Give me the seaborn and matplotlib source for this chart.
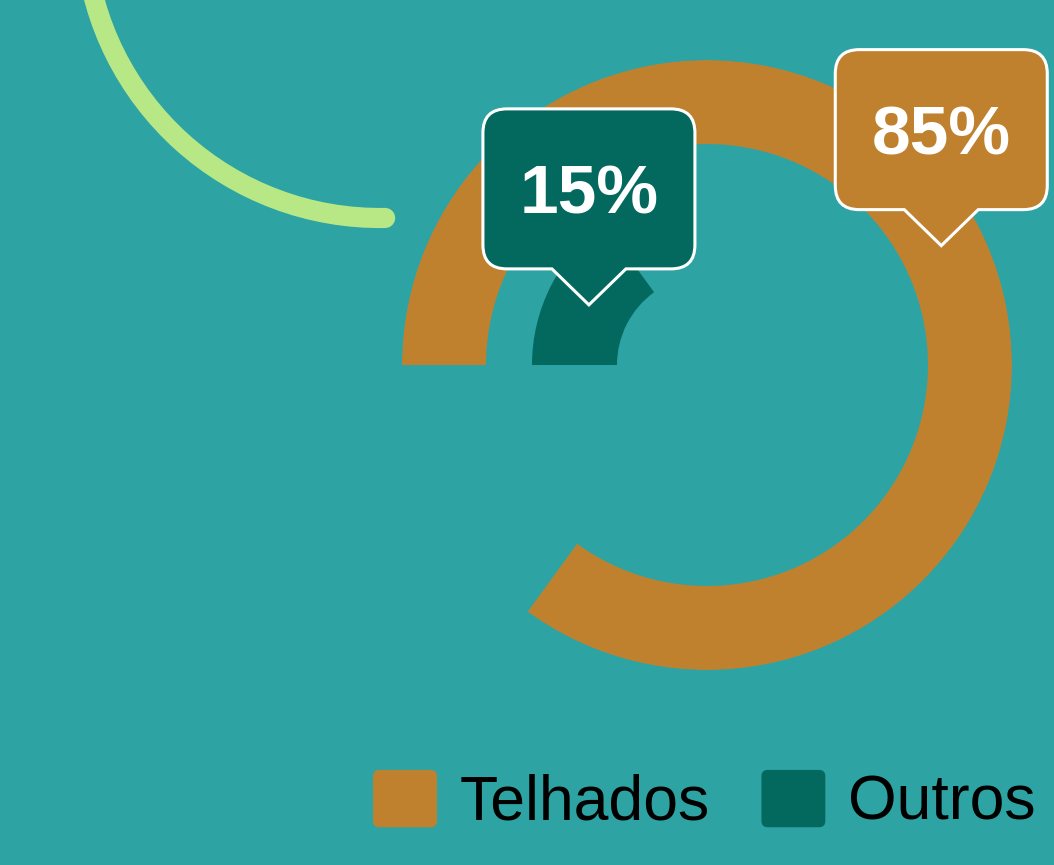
import numpy as np
import matplotlib.pyplot as plt
import seaborn as sns
from matplotlib.patches import Arc, PathPatch, Patch, FancyBboxPatch
from matplotlib.path import Path
from matplotlib.legend_handler import HandlerPatch

# data
categories = ['Telhados', 'Outros']
values = [85, 15]
labels = ['85%', '15%']
colors = ['#c0812f', '#03695f']

bg = '#2ea3a3'
green = '#b7e885'

sns.set_theme(style='white', rc={'figure.facecolor': bg, 'savefig.facecolor': bg})
plt.rcParams['font.family'] = ['Liberation Sans', 'DejaVu Sans']
palette = sns.color_palette(colors)

fig = plt.figure(figsize=(10.54, 8.65), dpi=100)

# radial bars
ax = fig.add_axes([0.3814, 0.2254, 0.5787, 0.7052], projection='polar')
ax.set_theta_zero_location('W')
ax.set_theta_direction(-1)
ax.set_ylim(0, 305)
ring_bottom = [221, 90]
ring_height = [84, 85]
widths = [v / 100 * 2 * np.pi for v in values]
ax.bar([0, 0], ring_height, width=widths, bottom=ring_bottom, align='edge',
       color=palette, linewidth=0)
ax.axis('off')

# overlay in pixel coordinates (decoration + callouts)
over = fig.add_axes([0, 0, 1, 1])
over.set_xlim(0, 1054)
over.set_ylim(0, 865)
over.axis('off')
over.set_zorder(3)

over.add_patch(Arc((380, 943), 592, 592, theta1=185, theta2=271,
                   color=green, lw=14.5, capstyle='round'))


def callout(tx, ty, w=212, h=160, r=24, ph=36, pw=37):
    L, R, B, T = tx - w / 2, tx + w / 2, ty + ph, ty + ph + h
    verts = [(tx - pw, B), (tx, ty), (tx + pw, B), (R - r, B), (R, B), (R, B + r),
             (R, T - r), (R, T), (R - r, T), (L + r, T), (L, T), (L, T - r),
             (L, B + r), (L, B), (L + r, B), (tx - pw, B)]
    codes = [Path.MOVETO, Path.LINETO, Path.LINETO, Path.LINETO, Path.CURVE3, Path.CURVE3,
             Path.LINETO, Path.CURVE3, Path.CURVE3, Path.LINETO, Path.CURVE3, Path.CURVE3,
             Path.LINETO, Path.CURVE3, Path.CURVE3, Path.CLOSEPOLY]
    return Path(verts, codes), ty + ph + h / 2


to_px = over.transData.inverted()
for i in range(len(values)):
    mid = ax.transData.transform((widths[i] / 2, ring_bottom[i] + ring_height[i] / 2))
    tx, ty = to_px.transform(mid)
    path, cy = callout(tx, ty)
    over.add_patch(PathPatch(path, facecolor=palette[i], edgecolor='white', lw=2.2))
    over.text(tx, cy - 25, labels[i], color='white', fontsize=50, fontweight='bold',
              ha='center', va='baseline')


def rounded(legend, orig_handle, xdescent, ydescent, width, height, fontsize):
    return FancyBboxPatch((-xdescent, -ydescent), width, height,
                          boxstyle='round,pad=0,rounding_size=4')


handles = [Patch(color=palette[i], label=categories[i]) for i in range(len(categories))]
fig.legend(handles=handles, loc='lower right', bbox_to_anchor=(1036 / 1054, 32 / 865),
           ncol=2, frameon=False, fontsize=45, borderpad=0, borderaxespad=0,
           handlelength=1.0, handleheight=1.0, handletextpad=0.38, columnspacing=0.83,
           labelcolor='black', handler_map={Patch: HandlerPatch(patch_func=rounded)})

fig.savefig('out.png', dpi=100)
